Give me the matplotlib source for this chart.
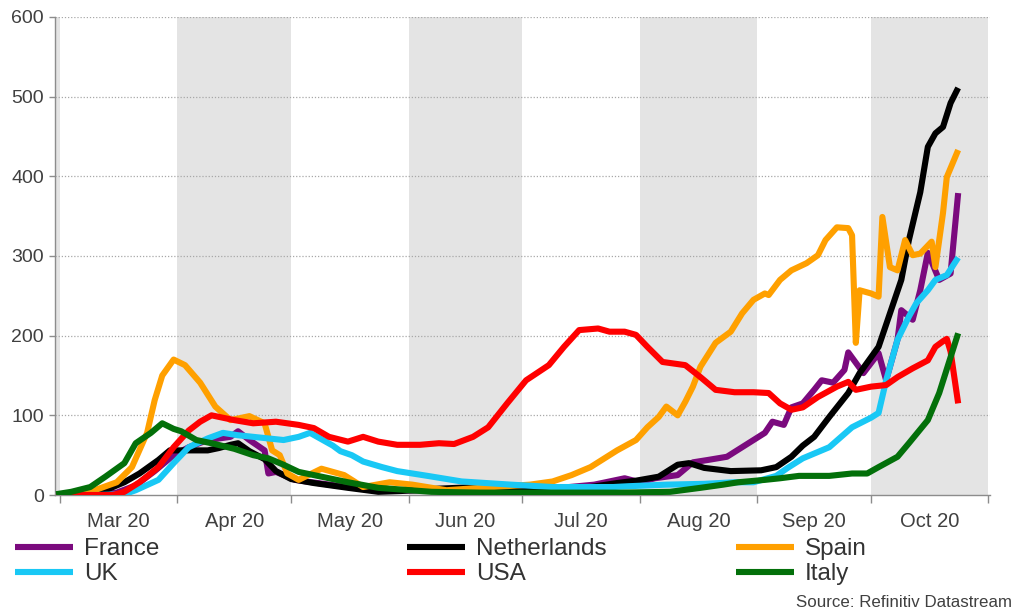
import numpy as np
import matplotlib
matplotlib.use("Agg")
import matplotlib.pyplot as plt
import matplotlib.dates as mdates

plt.rcParams['font.family'] = ['Liberation Sans', 'DejaVu Sans']

# ---- data: days since 2020-03-01, values (deaths per million, 7d) ----
france_days = [-1, 10, 15, 20, 25, 30, 34, 39, 45, 47, 50, 54, 55, 57, 62, 68, 76, 80, 90, 100,
               110, 120, 130, 141, 149, 153, 157, 163, 167, 171, 176, 180, 183, 186, 188, 191,
               193, 196, 199, 201, 204, 207, 208, 210, 212, 216, 218, 221, 222, 225, 227, 229,
               232, 235, 237]
france_vals = [0, 0, 3, 12, 30, 50, 60, 69, 73, 80, 69, 56, 27, 29, 19, 15, 10, 9, 6, 5,
               5, 6, 8, 13, 21, 16, 21, 25, 41, 44, 48, 60, 69, 78, 92, 88,
               110, 115, 132, 144, 141, 157, 179, 166, 153, 178, 144, 195, 232, 220, 257, 304,
               270, 278, 379]

neth_days = [-1, 8, 10, 12, 17, 21, 26, 29, 34, 39, 42, 45, 47, 50, 54, 57, 61, 67, 76, 84,
             90, 100, 110, 120, 130, 140, 147, 152, 158, 163, 166, 170, 177, 185, 189, 193,
             196, 199, 203, 208, 211, 216, 219, 222, 224, 227, 229, 231, 233, 235, 237]
neth_vals = [0, 0, 2, 6, 16, 27, 44, 56, 56, 56, 59, 63, 65, 55, 45, 30, 20, 15, 9, 4,
             5, 8, 10, 8, 7, 10, 15, 18, 23, 38, 40, 34, 30, 31, 35, 48,
             62, 73, 98, 128, 153, 186, 228, 270, 320, 380, 437, 454, 462, 492, 511]

spain_days = [-1, 5, 8, 15, 19, 23, 25, 27, 30, 33, 37, 41, 45, 50, 54, 56, 58, 60, 63, 69,
              75, 80, 87, 93, 102, 111, 124, 130, 135, 140, 147, 152, 155, 158, 160, 163,
              165, 167, 169, 171, 173, 177, 180, 183, 186, 187, 190, 193, 197, 200, 202,
              205, 208, 209, 210, 211, 214, 216, 217, 219, 221, 223, 225, 227, 230, 231,
              233, 234, 237]
spain_vals = [0, 1, 4, 16, 35, 78, 119, 150, 170, 163, 141, 111, 94, 99, 90, 56, 50, 27, 19, 33,
              25, 10, 16, 13, 6, 9, 13, 17, 25, 35, 56, 69, 85, 98, 111, 100,
              117, 136, 161, 176, 191, 205, 228, 245, 253, 251, 270, 282, 291, 301, 320,
              336, 335, 326, 191, 257, 253, 249, 349, 286, 282, 320, 301, 303, 318, 286,
              354, 399, 433]

uk_days = [-1, 10, 17, 20, 26, 30, 34, 39, 43, 47, 55, 59, 63, 66, 69, 72, 74, 77, 80, 85,
           89, 97, 106, 119, 130, 146, 150, 160, 170, 178, 183, 189, 192, 196, 203, 209,
           214, 216, 218, 221, 224, 226, 229, 231, 234, 237]
uk_vals = [0, 0, 1, 6, 19, 40, 60, 71, 78, 75, 71, 69, 73, 78, 70, 62, 55, 50, 42, 35,
           30, 24, 17, 13, 10, 10, 11, 13, 14, 16, 16, 24, 34, 46, 60, 85,
           97, 103, 144, 195, 224, 241, 257, 270, 276, 298]

usa_days = [-1, 14, 17, 21, 26, 30, 34, 37, 40, 46, 51, 57, 63, 67, 71, 76, 80, 84, 89, 95,
            100, 104, 109, 113, 118, 123, 129, 133, 137, 142, 145, 149, 152, 155, 159, 165,
            169, 173, 178, 183, 187, 190, 193, 196, 200, 205, 208, 210, 214, 218, 221, 225,
            229, 231, 233, 234, 235, 237]
usa_vals = [0, 0, 4, 16, 35, 60, 81, 92, 100, 94, 90, 92, 88, 84, 73, 67, 73, 67, 63, 63,
            65, 64, 73, 85, 115, 144, 163, 186, 207, 209, 205, 205, 201, 186, 167, 163,
            148, 132, 129, 129, 128, 115, 107, 110, 123, 136, 142, 132, 136, 138, 148, 159,
            169, 186, 193, 196, 180, 115]

italy_days = [-1, 3, 8, 12, 17, 20, 24, 27, 30, 32, 36, 40, 46, 51, 55, 59, 63, 68, 76, 84,
              98, 111, 130, 148, 161, 169, 175, 179, 186, 190, 195, 203, 209, 213, 216, 221,
              224, 229, 232, 235, 237]
italy_vals = [1, 4, 10, 23, 40, 65, 78, 90, 83, 80, 69, 65, 58, 50, 46, 38, 29, 24, 16, 9,
              4, 3, 3, 3, 4, 9, 13, 16, 19, 21, 24, 24, 27, 27, 35, 48,
              65, 94, 128, 173, 203]

series = [
    ("France", france_days, france_vals, "#7B0A7E"),
    ("Netherlands", neth_days, neth_vals, "#000000"),
    ("Spain", spain_days, spain_vals, "#FFA000"),
    ("UK", uk_days, uk_vals, "#19C8F5"),
    ("USA", usa_days, usa_vals, "#FF0000"),
    ("Italy", italy_days, italy_vals, "#03700A"),
]

month_starts = ["2020-02-01", "2020-03-01", "2020-04-01", "2020-05-01", "2020-06-01",
                "2020-07-01", "2020-08-01", "2020-09-01", "2020-10-01", "2020-11-01"]
month_labels = ["Mar 20", "Apr 20", "May 20", "Jun 20", "Jul 20", "Aug 20", "Sep 20", "Oct 20"]
y_ticks = [0, 100, 200, 300, 400, 500, 600]

base = mdates.date2num(np.datetime64("2020-03-01"))
ms = [mdates.date2num(np.datetime64(m)) for m in month_starts]

W, H = 1014, 613
fig = plt.figure(figsize=(W / 100, H / 100), dpi=100)
ax = fig.add_axes([55 / W, 1 - 495 / H, (990 - 55) / W, (495 - 17) / H])

# grey bands: Feb, Apr, Jun, Aug, Oct
for i in range(0, len(ms) - 1, 2):
    ax.axvspan(ms[i], ms[i + 1], color="#E4E4E4", lw=0, zorder=0)

for yv in y_ticks[1:]:
    ax.axhline(yv, color="#A8A8A8", lw=0.9, ls=(0, (1, 1.5)), zorder=1)

lines = {}
for i, (name, d, v, c) in enumerate(series):
    ln, = ax.plot(base + np.array(d), v, color=c, lw=4.4, solid_joinstyle="round",
                  solid_capstyle="butt", zorder=3 + i)
    lines[name] = ln

ax.set_xlim(base - 1.3, base + 245.4)
ax.set_ylim(0, 600)

ax.set_xticks(ms[1:])
ax.set_xticklabels([])
mids = [(ms[i] + ms[i + 1]) / 2 for i in range(1, len(ms) - 1)]
ax.set_xticks(mids, minor=True)
ax.set_xticklabels(month_labels, minor=True)
ax.tick_params(axis="x", which="major", length=6, width=1, color="#8C8C8C", direction="out")
ax.tick_params(axis="x", which="minor", length=0, pad=12, labelsize=14.5, labelcolor="#404040")

ax.set_yticks(y_ticks)
ax.set_yticklabels([str(t) for t in y_ticks])
ax.tick_params(axis="y", length=4, width=1, color="#8C8C8C", pad=4, labelsize=14,
               labelcolor="#404040")

for s in ["top", "right"]:
    ax.spines[s].set_visible(False)
for s in ["left", "bottom"]:
    ax.spines[s].set_color("#8C8C8C")
    ax.spines[s].set_linewidth(1)

# legends in three columns
cols = [(["France", "UK"], 15), (["Netherlands", "USA"], 407), (["Spain", "Italy"], 736)]
for names, xpx in cols:
    fig.legend([lines[n] for n in names], names, loc="upper left",
               bbox_to_anchor=(xpx / W, 1 - 538 / H), frameon=False, borderpad=0,
               borderaxespad=0, handlelength=2.39, handletextpad=0.45, labelspacing=0.14,
               fontsize=17.5, labelcolor="#333333")

fig.text(1012 / W, 1 - 607 / H, "Source: Refinitiv Datastream", ha="right", va="baseline",
         fontsize=12.2, color="#404040")

fig.savefig("out.png", dpi=100)
